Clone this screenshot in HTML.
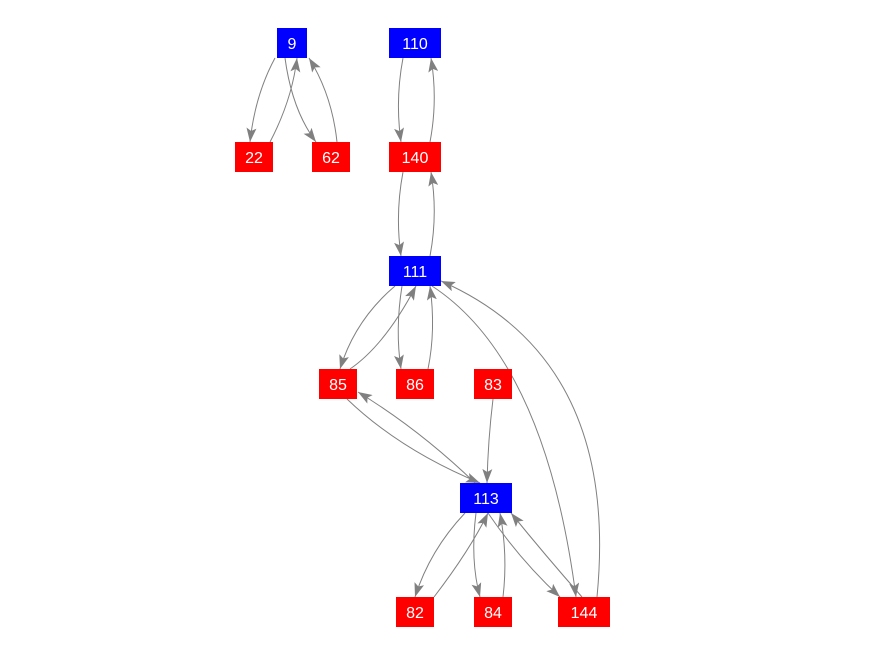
<!DOCTYPE html>
<html><head><style>
html,body{margin:0;padding:0;background:#fff;}
svg{display:block;}
text{font-family:"Liberation Sans",sans-serif;font-size:16px;fill:#fff;text-anchor:middle;}
</style></head><body>
<svg width="876" height="656" viewBox="0 0 876 656" xmlns="http://www.w3.org/2000/svg">
<defs>
<marker id="a" viewBox="0 0 14 10" refX="14" refY="5" markerWidth="14" markerHeight="10" markerUnits="userSpaceOnUse" orient="auto">
<path d="M0,0 L14,5 L0,10 L3,5 Z" fill="#808080"/>
</marker>
</defs>
<g fill="none" stroke="#808080" stroke-width="1" marker-end="url(#a)">
<path d="M275,58 Q255,95 250,142"/>
<path d="M270,142 Q292,100 297,58"/>
<path d="M285,58 Q292,110 316,142"/>
<path d="M337,142 Q332,95 309,58"/>
<path d="M403,58 Q395,100 401,142"/>
<path d="M430,142 Q438,100 431,58"/>
<path d="M403,172 Q395,214 401,256"/>
<path d="M430,256 Q438,214 431,172"/>
<path d="M395,286 Q355,320 340,369"/>
<path d="M350,369 Q385,345 416,286"/>
<path d="M402,286 Q395,330 401,369"/>
<path d="M428,369 Q436,330 430,286"/>
<path d="M493,399 Q488,440 487,483"/>
<path d="M347,399 Q400,450 480,483"/>
<path d="M475,483 Q420,430 358,392"/>
<path d="M432,286 Q545,360 576,597"/>
<path d="M597,597 Q620,360 441,281"/>
<path d="M465,513 Q430,550 415,597"/>
<path d="M434,597 Q470,550 488,513"/>
<path d="M476,513 Q470,560 480,597"/>
<path d="M503,597 Q508,555 500,513"/>
<path d="M488,513 Q520,560 560,597"/>
<path d="M582,597 Q545,555 511,513"/>
</g>
<rect x="277" y="28" width="30" height="30" fill="#0000ff"/><text x="292" y="49">9</text>
<rect x="389" y="28" width="52" height="30" fill="#0000ff"/><text x="415" y="49">110</text>
<rect x="235" y="142" width="38" height="30" fill="#ff0000"/><text x="254" y="163">22</text>
<rect x="312" y="142" width="38" height="30" fill="#ff0000"/><text x="331" y="163">62</text>
<rect x="389" y="142" width="52" height="30" fill="#ff0000"/><text x="415" y="163">140</text>
<rect x="389" y="256" width="52" height="30" fill="#0000ff"/><text x="415" y="277">111</text>
<rect x="319" y="369" width="38" height="30" fill="#ff0000"/><text x="338" y="390">85</text>
<rect x="396" y="369" width="38" height="30" fill="#ff0000"/><text x="415" y="390">86</text>
<rect x="474" y="369" width="38" height="30" fill="#ff0000"/><text x="493" y="390">83</text>
<rect x="460" y="483" width="52" height="30" fill="#0000ff"/><text x="486" y="504">113</text>
<rect x="396" y="597" width="38" height="30" fill="#ff0000"/><text x="415" y="618">82</text>
<rect x="474" y="597" width="38" height="30" fill="#ff0000"/><text x="493" y="618">84</text>
<rect x="558" y="597" width="52" height="30" fill="#ff0000"/><text x="584" y="618">144</text>
</svg>
</body></html>
